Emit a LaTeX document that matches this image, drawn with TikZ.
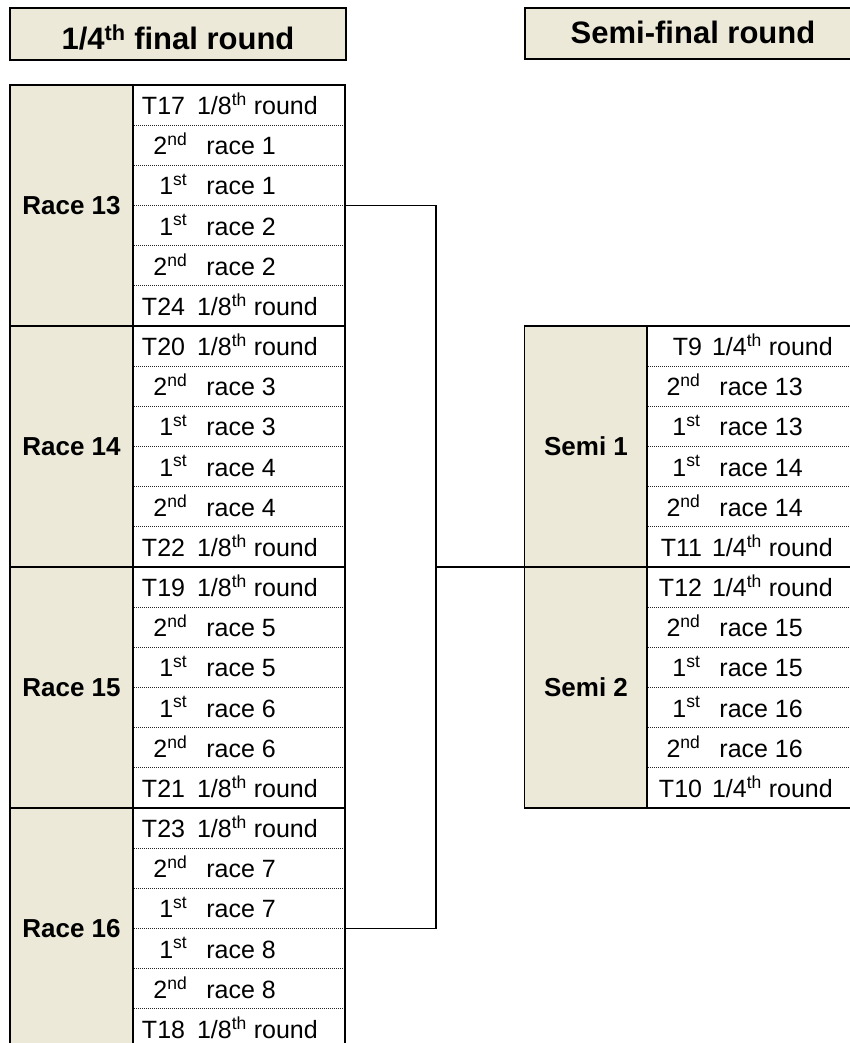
\documentclass[tikz,border=0pt]{standalone}
\usepackage{fontspec}
\setmainfont{Liberation Sans}
\definecolor{beige}{HTML}{ECE9D8}
\newcommand\sst{\textsuperscript{st}}
\newcommand\snd{\textsuperscript{nd}}
\newcommand\sth{\textsuperscript{th}}
\begin{document}
\begin{tikzpicture}[x=1pt,y=-1pt,
  hdr/.style={draw=black,line width=1.8pt,fill=beige,inner sep=0},
  hdrtext/.style={font=\fontsize{31}{34}\selectfont\bfseries,anchor=base,inner sep=0},
  lbl/.style={draw=black,line width=1.8pt,fill=beige,minimum width=123pt,minimum height=241pt,inner sep=0,outer sep=0,font=\fontsize{26}{29}\selectfont\bfseries},
  cellbox/.style={draw=black,line width=1.8pt,fill=white,minimum height=241pt,inner sep=0,outer sep=0},
  entry/.style={font=\fontsize{25}{28}\selectfont,anchor=base east,inner sep=0},
  sep/.style={line width=1pt,dash pattern=on 1pt off 1pt,black!85},
  link/.style={line width=1.8pt,black}]
\clip (0,0) rectangle (850,1043);
% headers
\draw[hdr] (10,8) rectangle (346,60);
\node[hdrtext] (h1) at (178,50) {1/4\sth\ final round};
\draw[hdr] (525,8) rectangle (870,59);
\node[hdrtext] (h2) at (693,43.5) {Semi-final round};
% left table blocks
\foreach \nm/\top/\lab in {r13/85/Race 13, r14/326/Race 14, r15/567/Race 15, r16/808/Race 16}{
  \node[lbl] (\nm) at (71.5,\top+120.5) {\lab};
  \node[cellbox,minimum width=212pt] (\nm c) at (239,\top+120.5) {};
  \foreach \k in {1,...,5}{\draw[sep] (134,\top+40.17*\k) -- (344,\top+40.17*\k);}
}
% semi table blocks
\foreach \nm/\top/\lab in {s1/326/Semi 1, s2/567/Semi 2}{
  \node[lbl] (\nm) at (586,\top+120.5) {\lab};
  \node[cellbox,minimum width=223pt] (\nm c) at (758.5,\top+120.5) {};
  \foreach \k in {1,...,5}{\draw[sep] (648,\top+40.17*\k) -- (870,\top+40.17*\k);}
}
% left entries
\foreach \top/\a/\b/\c/\d/\e/\f in {
  85/T17/1/1/2/2/T24, 326/T20/3/3/4/4/T22, 567/T19/5/5/6/6/T21, 808/T23/7/7/8/8/T18}{
  \node[entry] at (318,\top+29.5) {\a\hspace{12pt}1/8\sth\ round};
  \node[entry] at (276,\top+40.17+29.5) {2\snd\hspace{19pt}race \b};
  \node[entry] at (276,\top+80.33+29.5) {1\sst\hspace{19pt}race \c};
  \node[entry] at (276,\top+120.5+29.5) {1\sst\hspace{19pt}race \d};
  \node[entry] at (276,\top+160.67+29.5) {2\snd\hspace{19pt}race \e};
  \node[entry] at (318,\top+200.83+29.5) {\f\hspace{12pt}1/8\sth\ round};
}
% semi entries
\foreach \top/\a/\b/\c/\d/\e/\f in {
  326/T9/13/13/14/14/T11, 567/T12/15/15/16/16/T10}{
  \node[entry] at (833,\top+29.5) {\a\hspace{10pt}1/4\sth\ round};
  \node[entry] at (803,\top+40.17+29.5) {2\snd\hspace{19pt}race \b};
  \node[entry] at (803,\top+80.33+29.5) {1\sst\hspace{19pt}race \c};
  \node[entry] at (803,\top+120.5+29.5) {1\sst\hspace{19pt}race \d};
  \node[entry] at (803,\top+160.67+29.5) {2\snd\hspace{19pt}race \e};
  \node[entry] at (833,\top+200.83+29.5) {\f\hspace{10pt}1/4\sth\ round};
}
% connectors
\coordinate (j) at (436,567);
\draw[link] (r13c.east) -| (j);
\draw[link] (r16c.east) -| (j);
\draw[link] (j) -- (j -| s1.west);
\end{tikzpicture}
\end{document}
